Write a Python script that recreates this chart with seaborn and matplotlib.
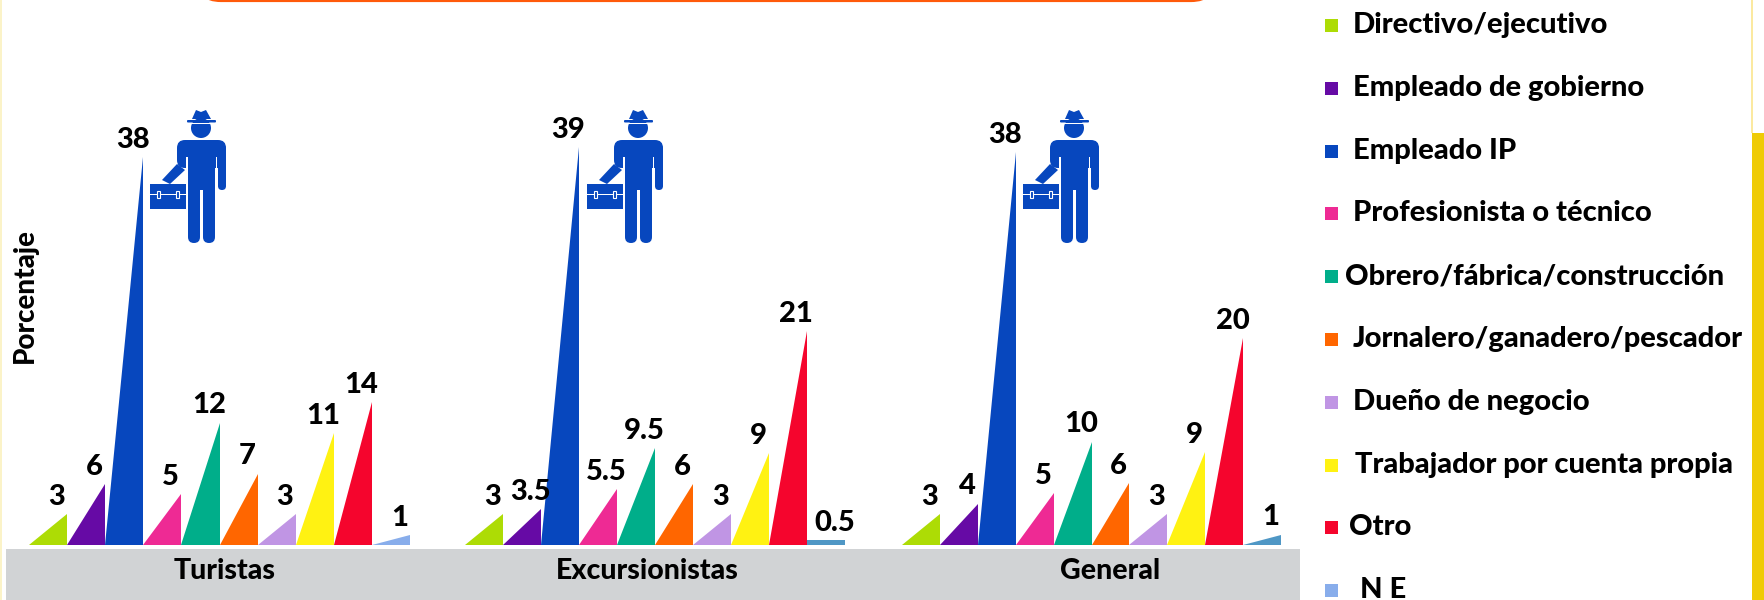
# plot.py - ocupacion de visitantes

import matplotlib
matplotlib.use("Agg")
import matplotlib.pyplot as plt
from matplotlib.patches import Circle, FancyBboxPatch, Polygon, Rectangle
import pandas as pd
import seaborn as sns

# -------------------------
# DATA
# -------------------------
categories = ["Directivo/ejecutivo", "Empleado de gobierno", "Empleado IP",
              "Profesionista o técnico", "Obrero/fábrica/construcción",
              "Jornalero/ganadero/pescador", "Dueño de negocio",
              "Trabajador por cuenta propia", "Otro", "N E"]
turistas = [3, 6, 38, 5, 12, 7, 3, 11, 14, 1]
excursionistas = [3, 3.5, 39, 5.5, 9.5, 6, 3, 9, 21, 0.5]
general = [3, 4, 38, 5, 10, 6, 3, 9, 20, 1]
colors = ["#ADDC05", "#660AA5", "#0747BE", "#EE2A94", "#00AE8A",
          "#FF6600", "#C095E4", "#FFF212", "#F5052D", "#88ADEB"]

BLUE = "#0747BE"
W, H = 1765, 600
plt.rcParams["font.family"] = "Lato"
plt.rcParams["font.weight"] = "black"

fig = plt.figure(figsize=(W / 100, H / 100), dpi=100, facecolor="white")

# overlay in pixel coordinates for the slide decoration
bg = fig.add_axes([0, 0, 1, 1])
bg.set_xlim(0, W)
bg.set_ylim(H, 0)
bg.axis("off")

bg.add_patch(Rectangle((0, 0), 2, H, color="#FBF3C8", lw=0))
bg.add_patch(Rectangle((1751, 0), 2, 133, color="#FBE9A0", lw=0))
bg.add_patch(Rectangle((1752, 133), 13, H - 133, color="#EFCB05", lw=0))
bg.add_patch(FancyBboxPatch((197, -60), 1018, 60, boxstyle="round,pad=0,rounding_size=24",
                            fc="white", ec="#FF5A0A", lw=3))
bg.add_patch(Rectangle((6, 549), 1294, 51, color="#D1D3D5", lw=0))

bg.text(25, 296, "Porcentaje", rotation=90, ha="center", va="center", fontsize=20)


# person with hat and briefcase, local units are pixels
def draw_person(ox, oy):
    def rect(x, y, w, h, rounding=0, color=BLUE):
        bg.add_patch(FancyBboxPatch((ox + x, oy + y), w, h, lw=0, fc=color,
                                    boxstyle=f"round,pad=0,rounding_size={rounding}"))

    bg.add_patch(Polygon([(ox + 92, oy + 29), (ox + 96, oy + 20), (ox + 101, oy + 22),
                          (ox + 106, oy + 20), (ox + 111, oy + 29)], color=BLUE, lw=0))
    rect(87, 30, 29, 2.5, 1)
    bg.add_patch(Circle((ox + 101, oy + 38), 10, color=BLUE, lw=0))
    bg.add_patch(Rectangle((ox + 90, oy + 32.5), 22, 1.5, color="white", lw=0))
    rect(77, 50, 49, 28, 8)
    rect(88, 60, 27, 40)
    rect(118, 55, 8, 45, 4)
    rect(88, 90, 12, 63, 6)
    rect(103, 90, 12, 63, 6)
    # thin gaps between arms and body
    bg.add_patch(Rectangle((ox + 116, oy + 67), 1.5, 30, color="white", lw=0))
    bg.add_patch(Rectangle((ox + 86.5, oy + 67), 1.5, 28, color="white", lw=0))
    bg.add_patch(Polygon([(ox + 62, oy + 90), (ox + 77, oy + 74), (ox + 85, oy + 80),
                          (ox + 70, oy + 94)], color=BLUE, lw=0))
    rect(50, 94, 36, 25)
    bg.add_patch(Rectangle((ox + 50, oy + 104), 36, 1.2, color="white", lw=0))
    for bx in (57, 76):
        bg.add_patch(Rectangle((ox + bx, oy + 101), 3, 7, fc=BLUE, ec="white", lw=0.8))


for ox in (100, 537, 973):
    draw_person(ox, 90)


# -------------------------
# BARS (one axes per group, each bar redrawn as a right triangle)
# -------------------------
def draw_group(values, left, right, name, name_x, px_per_unit, last_color):
    ax = fig.add_axes([left / W, (H - 545) / H, (right - left) / W, 545 / H])
    ax.patch.set_alpha(0)
    df = pd.DataFrame({"cat": categories, "val": values})
    palette = colors[:-1] + [last_color]
    sns.barplot(data=df, x="cat", y="val", hue="cat", palette=palette, legend=False,
                width=1, saturation=1, ax=ax)
    ax.set_xlim(-0.5, len(values) - 0.5)
    ax.set_ylim(0, 545 / px_per_unit)
    ax.axis("off")

    for bar, val in zip(list(ax.patches), values):
        x0, x1 = bar.get_x(), bar.get_x() + bar.get_width()
        h = bar.get_height()
        # the smallest bar stays a flat band in the original
        if val >= 1:
            ax.add_patch(Polygon([(x0, 0), (x1, 0), (x1, h)], fc=bar.get_facecolor(), lw=0))
            bar.set_visible(False)
        ax.annotate(f"{val:g}", ((x0 + x1) / 2 + 0.22, h), xytext=(0, 3),
                    textcoords="offset points", ha="center", va="bottom",
                    fontsize=21, annotation_clip=False)
    bg.text(name_x, 571, name, ha="center", va="center", fontsize=20.5)


draw_group(turistas, 29, 410, "Turistas", 225, 10.2, colors[-1])
draw_group(excursionistas, 465, 845, "Excursionistas", 647, 10.2, "#4F97C5")
draw_group(general, 902, 1281, "General", 1110, 10.35, "#4F97C5")

# -------------------------
# LEGEND
# -------------------------
legend_x = [1353, 1353, 1353, 1353, 1345, 1353, 1353, 1355, 1349, 1360]
for i, (cat, col) in enumerate(zip(categories, colors)):
    y = 25 + i * 62.8
    bg.add_patch(Rectangle((1325, y - 6), 13, 13, color=col, lw=0))
    bg.text(legend_x[i], y, cat, ha="left", va="center", fontsize=21)

fig.savefig("out.png", dpi=100)
